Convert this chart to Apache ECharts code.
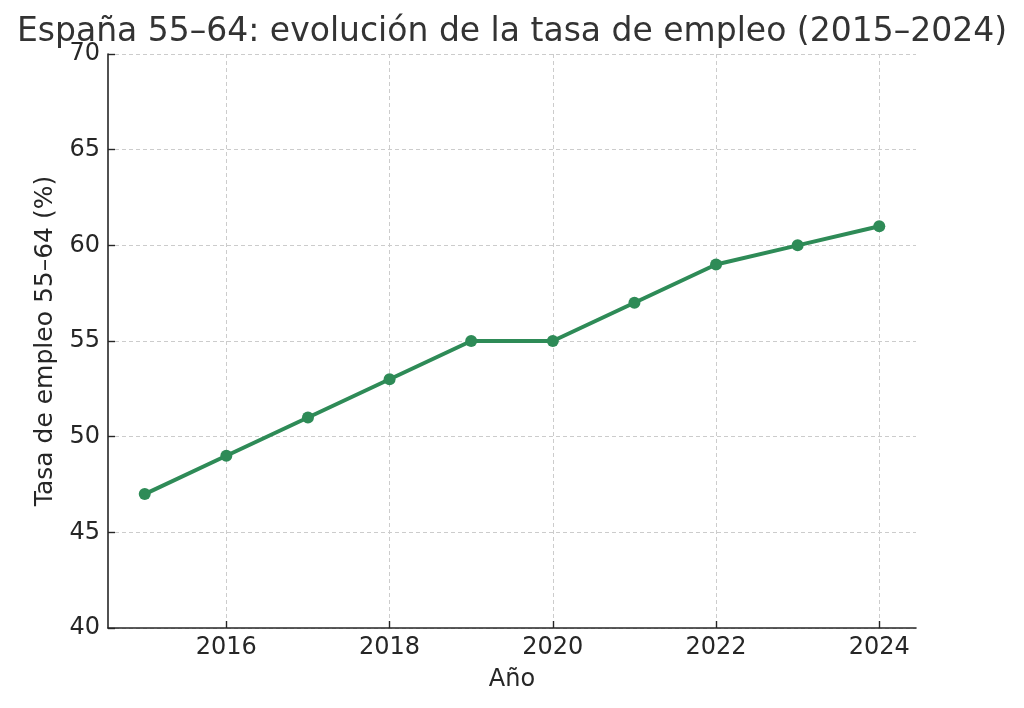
<!DOCTYPE html>
<html>
<head>
<meta charset="utf-8">
<script src="https://cdn.jsdelivr.net/npm/echarts@6/dist/echarts.min.js"></script>
<style>
  html, body { margin: 0; padding: 0; background: #fff; }
  #main { width: 1024px; height: 708px; }
</style>
</head>
<body>
<div id="main"></div>
<script>
// datos
const years = [2015, 2016, 2017, 2018, 2019, 2020, 2021, 2022, 2023, 2024];
const tasaEmpleo = [47, 49, 51, 53, 55, 55, 57, 59, 60, 61];
const xTicks = [2016, 2018, 2020, 2022, 2024];

const fontFam = '"DejaVu Sans", sans-serif';

let myChart = echarts.init(document.getElementById('main'));

let option = {
    backgroundColor: '#ffffff',
    animation: false,
    title: {
        text: 'España 55–64: evolución de la tasa de empleo (2015–2024)',
        left: 'center',
        top: 11,
        textStyle: {
            fontFamily: fontFam,
            fontSize: 33,
            fontWeight: 'normal',
            color: '#333333'
        }
    },
    grid: {
        left: 108,
        right: 108,
        top: 54,
        bottom: 80
    },
    xAxis: {
        type: 'value',
        min: 2014.55,
        max: 2024.45,
        name: 'Año',
        nameLocation: 'middle',
        nameGap: 40,
        nameTextStyle: {fontFamily: fontFam, fontSize: 24, color: '#262626'},
        axisLine: {lineStyle: {color: '#262626', width: 1.6}},
        axisTick: {
            inside: true,
            length: 7,
            customValues: xTicks,
            lineStyle: {color: '#262626', width: 1.4}
        },
        axisLabel: {
            customValues: xTicks,
            fontFamily: fontFam,
            fontSize: 24,
            color: '#262626',
            margin: 8,
            formatter: function(v){ return String(v); }
        },
        splitLine: {
            show: true,
            customValues: xTicks,
            lineStyle: {color: '#cccccc', type: [4, 3], width: 1}
        }
    },
    yAxis: {
        type: 'value',
        min: 40,
        max: 70,
        interval: 5,
        name: 'Tasa de empleo 55–64 (%)',
        nameLocation: 'middle',
        nameGap: 50,
        nameTextStyle: {fontFamily: fontFam, fontSize: 25, color: '#262626'},
        axisLine: {show: true, lineStyle: {color: '#262626', width: 1.6}},
        axisTick: {show: true, inside: true, length: 7, lineStyle: {color: '#262626', width: 1.4}},
        axisLabel: {
            fontFamily: fontFam,
            fontSize: 24,
            color: '#262626',
            margin: 8
        },
        splitLine: {
            show: true,
            lineStyle: {color: '#cccccc', type: [4, 3], width: 1}
        }
    },
    series: [
        {
            name: 'Tasa de empleo',
            type: 'line',
            data: years.map((y, i) => [y, tasaEmpleo[i]]),
            symbol: 'circle',
            symbolSize: 12,
            lineStyle: {color: '#2e8b57', width: 4},
            itemStyle: {color: '#2e8b57'}
        }
    ]
};

myChart.setOption(option);
</script>
</body>
</html>
